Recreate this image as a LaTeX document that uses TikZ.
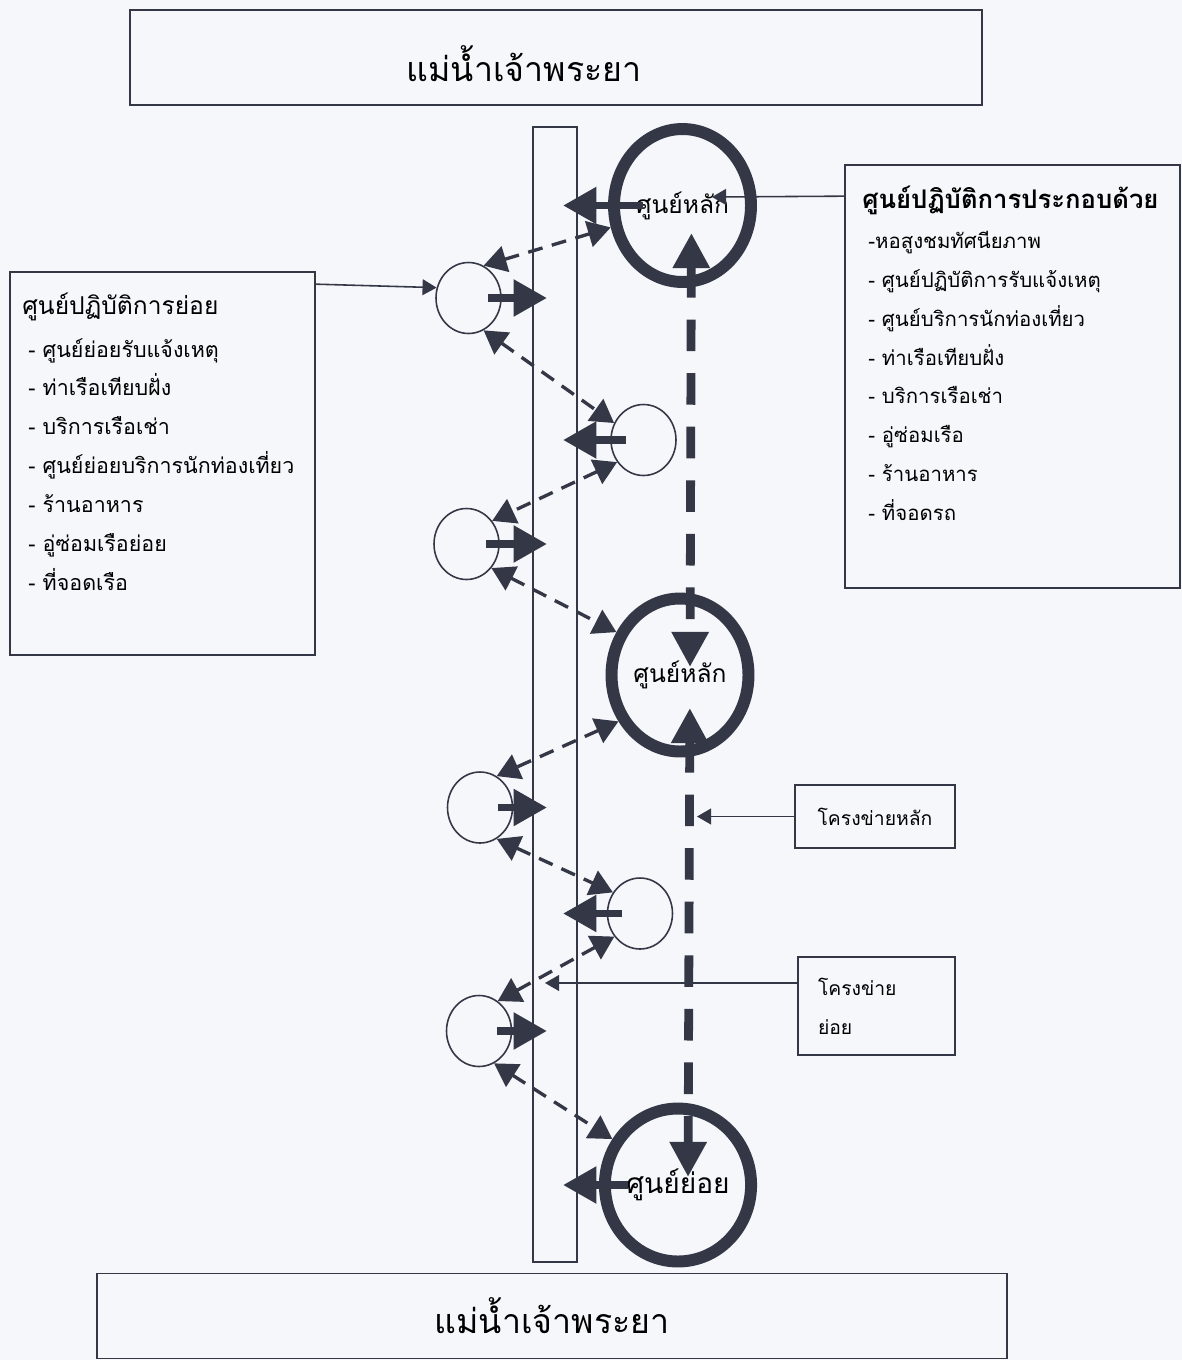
\documentclass[tikz,border=0pt]{standalone}
\usepackage{fontspec}
\newfontfamily\thaifont[Script=Thai]{Loma}
\usetikzlibrary{arrows.meta,positioning,shapes.geometric}
\definecolor{ink}{RGB}{52,55,70}
\definecolor{paper}{RGB}{246,247,250}

\begin{document}
\begin{tikzpicture}[
    x=0.02cm, y=-0.02cm,
    font=\thaifont,
    titlebox/.style={
      draw=ink, line width=0.9pt, inner sep=0pt,
      font=\thaifont\fontsize{19.3}{23}\selectfont
    },
    titletext/.style={
      inner sep=0pt,
      font=\thaifont\fontsize{19.3}{23}\selectfont
    },
    infobox/.style={
      draw=ink, line width=1pt, inner sep=0pt
    },
    headtext/.style={
      inner sep=0pt, anchor=west,
      font=\thaifont\fontsize{14}{18}\selectfont
    },
    listtext/.style={
      inner sep=0pt, anchor=north west, align=left,
      font=\thaifont\fontsize{12.2}{22.1}\selectfont
    },
    hub/.style={
      ellipse, draw=ink, line width=6.8pt, inner sep=0pt,
      minimum width=2.74cm, minimum height=3.06cm,
      font=\thaifont\fontsize{14}{16}\selectfont
    },
    stop/.style={
      ellipse, draw=ink, line width=0.9pt, inner sep=0pt,
      minimum width=1.3cm, minimum height=1.42cm
    },
    link/.style={
      draw=ink, line width=1.9pt, dash pattern=on 8.5pt off 5.5pt,
      {Triangle[length=13pt,width=15pt]}-{Triangle[length=13pt,width=15pt]}
    },
    push/.style={
      draw=ink, line width=4.5pt, shorten >=0.16cm,
      -{Triangle[length=19pt,width=20pt]}
    },
    trunk/.style={
      draw=ink, line width=5pt, dash pattern=on 18pt off 12.5pt,
      {Triangle[length=20pt,width=20pt]}-{Triangle[length=20pt,width=20pt]}
    },
    pointer/.style={
      draw=ink, line width=0.9pt,
      -{Triangle[length=8pt,width=9pt]}
    }
  ]

    % page
    \fill[paper] (0,0) rectangle (1182,1360);
    \useasboundingbox (0,0) rectangle (1182,1360);

    % River banks (top and bottom)
    \node[titlebox, minimum width=17.04cm, minimum height=1.9cm] (rivertop) at (556,57.5) {};
    \node[titletext] (rivertoptext) at (524,64) {แม่น้ำเจ้าพระยา};
    \node[titlebox, minimum width=18.2cm, minimum height=1.7cm] (riverbot) at (552,1316) {แม่น้ำเจ้าพระยา};

    % River strip
    \node[infobox, line width=0.9pt, minimum width=0.88cm, minimum height=22.7cm] (river) at (555,694.5) {};

    % Main centres
    \node[hub] (big1) at (682.5,205.5) {ศูนย์หลัก};
    \node[hub] (big2) at (680,675) {ศูนย์หลัก};
    \node[hub, font=\thaifont\fontsize{16}{18}\selectfont] (big3) at (678,1185) {ศูนย์ย่อย};

    % Sub centres
    \node[stop] (s1) at (468.5,298) {};
    \node[stop] (s2) at (643.5,440) {};
    \node[stop] (s3) at (466.5,544) {};
    \node[stop] (s4) at (480,807.5) {};
    \node[stop] (s5) at (640,913.5) {};
    \node[stop] (s6) at (479,1031) {};

    % Info boxes
    \node[infobox, minimum width=6.7cm, minimum height=8.46cm] (opsbox) at (1012.5,376.5) {};
    \node[headtext, font=\thaifont\bfseries\fontsize{14.6}{18}\selectfont] (opshead) at (862,200) {ศูนย์ปฏิบัติการประกอบด้วย};
    \node[listtext, font=\thaifont\fontsize{11.6}{22.1}\selectfont] (opslist) at (868,231) {-หอสูงชมทัศนียภาพ\\
      - ศูนย์ปฏิบัติการรับแจ้งเหตุ\\
      - ศูนย์บริการนักท่องเที่ยว\\
      - ท่าเรือเทียบฝั่ง\\
      - บริการเรือเช่า\\
      - อู่ซ่อมเรือ\\
      - ร้านอาหาร\\
      - ที่จอดรถ};

    \node[infobox, minimum width=6.1cm, minimum height=7.66cm] (subbox) at (162.5,463.5) {};
    \node[headtext] (subhead) at (22,307) {ศูนย์ปฏิบัติการย่อย};
    \node[listtext] (sublist) at (28,338) {- ศูนย์ย่อยรับแจ้งเหตุ\\
      - ท่าเรือเทียบฝั่ง\\
      - บริการเรือเช่า\\
      - ศูนย์ย่อยบริการนักท่องเที่ยว\\
      - ร้านอาหาร\\
      - อู่ซ่อมเรือย่อย\\
      - ที่จอดเรือ};

    % Network labels
    \node[infobox, minimum width=3.2cm, minimum height=1.26cm,
          font=\thaifont\fontsize{11}{16}\selectfont] (mainnet) at (875,816.5) {โครงข่ายหลัก};
    \node[infobox, minimum width=3.14cm, minimum height=1.96cm, align=left,
          text width=2.34cm, inner sep=0pt,
          font=\thaifont\fontsize{11}{22.1}\selectfont] (subnet) at (876.5,1006) {โครงข่าย\\ย่อย};

    \coordinate (opshit) at (712,197);
    \coordinate (mainhit) at (697,816.5);
    \coordinate (subhit) at (545,983);

    % Main network (thick dashed)
    \draw[trunk, shorten <=0.55cm, shorten >=0.16cm]
      ([xshift=0.18cm]big1.center) -- ([xshift=0.2cm]big2.center);
    \draw[trunk, shorten <=0.66cm, shorten >=0.16cm]
      ([xshift=0.2cm]big2.center) -- ([xshift=0.2cm]big3.center);

    % Sub network (zigzag)
    \draw[link] (s1.65)    -- (big1.197);
    \draw[link] (s1.-65)   -- (s2.150);
    \draw[link] (s2.-140)  -- (s3.42);
    \draw[link] (s3.-44)   -- (big2.146);
    \draw[link] (big2.217) -- (s4.62);
    \draw[link] (s4.-62)   -- (s5.142);
    \draw[link] (s5.-138)  -- (s6.58);
    \draw[link] (s6.-65)   -- (big3.145);

    % Centres -> river
    \draw[push, shorten <=0.8cm]  (big1.center) -- (big1.center -| river.center);
    \draw[push, shorten <=0.38cm] (s1.center)   -- (s1.center -| river.center);
    \draw[push, shorten <=0.36cm] (s2.center)   -- (s2.center -| river.center);
    \draw[push, shorten <=0.38cm] (s3.center)   -- (s3.center -| river.center);
    \draw[push, shorten <=0.36cm] (s4.center)   -- (s4.center -| river.center);
    \draw[push, shorten <=0.36cm] (s5.center)   -- (s5.center -| river.center);
    \draw[push, shorten <=0.36cm] (s6.center)   -- (s6.center -| river.center);
    \draw[push, shorten <=1.0cm]  (big3.center) -- (big3.center -| river.center);

    % Label pointers
    \draw[pointer] ([yshift=-0.64cm]opsbox.north west) -- (opshit);
    \draw[pointer] ([yshift=-0.26cm]subbox.north east) -- (s1.162);
    \draw[pointer] (mainnet.west) -- (mainhit);
    \draw[pointer] ([yshift=0.46cm]subnet.west) -- (subhit);

  \end{tikzpicture}
\end{document}
